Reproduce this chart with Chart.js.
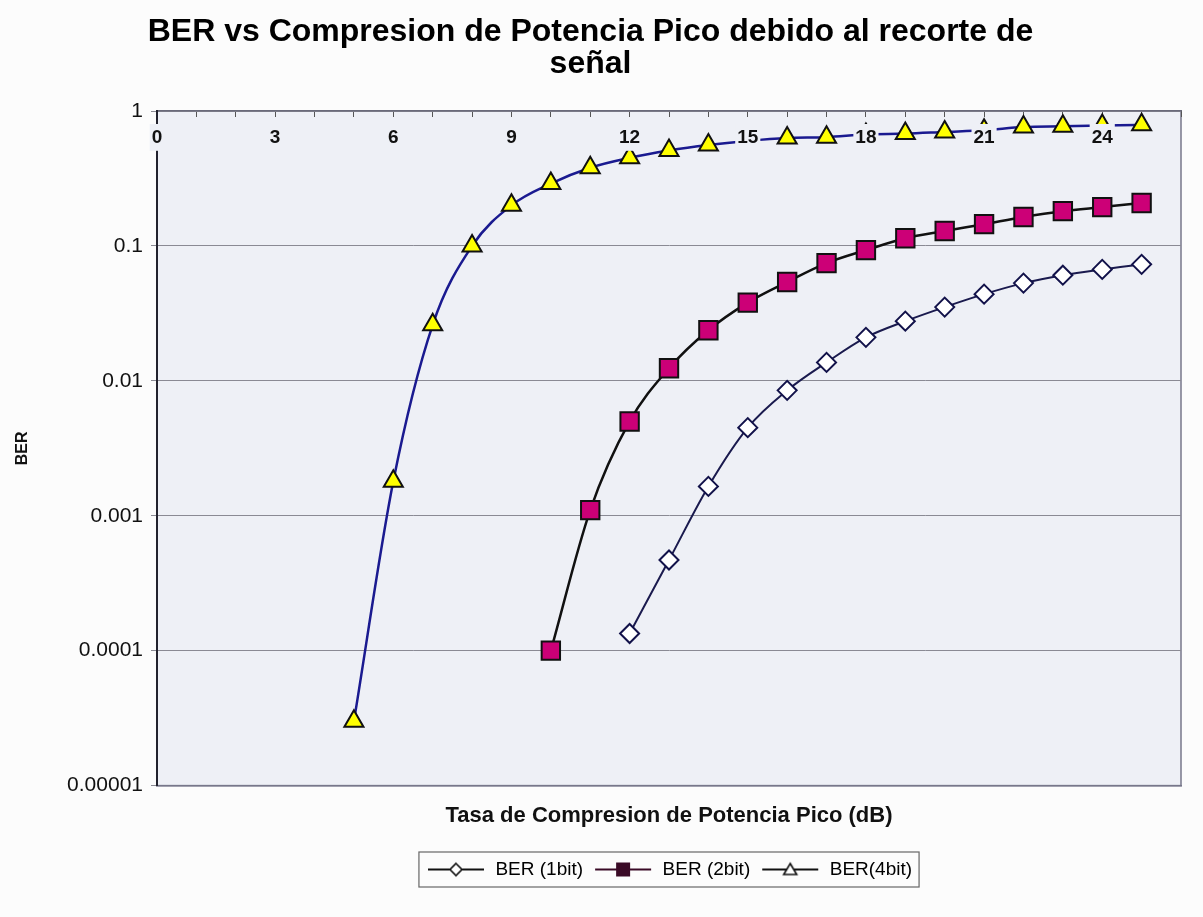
<!DOCTYPE html>
<html>
<head>
<meta charset="utf-8">
<script src="https://cdn.jsdelivr.net/npm/chart.js@4/dist/chart.umd.min.js"></script>
<style>
  html, body { margin: 0; padding: 0; background: #fcfcfc; }
  #wrap { width: 1203px; height: 917px; }
</style>
</head>
<body>
<div id="wrap"><canvas id="berChart"></canvas></div>
<script>
const FONT = "Arial, 'Liberation Sans', sans-serif";

// tick labels
const xTickLabels = [0, 3, 6, 9, 12, 15, 18, 21, 24];
const yTicks = [1, 0.1, 0.01, 0.001, 0.0001, 0.00001];
const yTickLabels = ["1", "0.1", "0.01", "0.001", "0.0001", "0.00001"];

// BER (1bit)
const x1bit = [12, 13, 14, 15, 16, 17, 18, 19, 20, 21, 22, 23, 24, 25];
const ber1bit = [0.000134, 0.00047, 0.00165, 0.0045, 0.0085, 0.0137, 0.021, 0.0277, 0.0352, 0.0439, 0.053, 0.0607, 0.067, 0.073];

// BER (2bit)
const x2bit = [10, 11, 12, 13, 14, 15, 16, 17, 18, 19, 20, 21, 22, 23, 24, 25];
const ber2bit = [0.0001, 0.0011, 0.005, 0.0124, 0.0237, 0.038, 0.054, 0.0745, 0.093, 0.114, 0.129, 0.145, 0.164, 0.181, 0.194, 0.208];

// BER(4bit)
const x4bit = [5, 6, 7, 8, 9, 10, 11, 12, 13, 14, 15, 16, 17, 18, 19, 20, 21, 22, 23, 24, 25];
const ber4bit = [0.00003, 0.0018, 0.026, 0.1, 0.2, 0.29, 0.38, 0.45, 0.51, 0.56, 0.6, 0.63, 0.64, 0.67, 0.68, 0.70, 0.72, 0.76, 0.77, 0.78, 0.79];

const seriesNames = ["BER (1bit)", "BER (2bit)", "BER(4bit)"];

function pts(xs, ys) {
  return xs.map((x, i) => ({ x: x, y: ys[i] }));
}

// little line+marker pictures for the legend
function legendIcon(kind) {
  const c = document.createElement("canvas");
  c.width = 60; c.height = 18;
  const g = c.getContext("2d");
  const cx = 30, cy = 9;
  g.lineWidth = 2;
  g.strokeStyle = kind === "square" ? "#3a0a26" : "#111";
  g.beginPath(); g.moveTo(2, cy); g.lineTo(58, cy); g.stroke();
  g.lineWidth = 1.6;
  g.beginPath();
  if (kind === "diamond") {
    g.moveTo(cx, cy - 6); g.lineTo(cx + 6, cy); g.lineTo(cx, cy + 6); g.lineTo(cx - 6, cy); g.closePath();
    g.fillStyle = "#fff"; g.fill(); g.stroke();
  } else if (kind === "square") {
    g.fillStyle = "#3a0a26";
    g.fillRect(cx - 7, cy - 7, 14, 14);
  } else {
    g.moveTo(cx, cy - 6); g.lineTo(cx + 6.5, cy + 5); g.lineTo(cx - 6.5, cy + 5); g.closePath();
    g.fillStyle = "#fff"; g.fill(); g.stroke();
  }
  return c;
}
const legendIcons = [legendIcon("diamond"), legendIcon("square"), legendIcon("triangle")];

const plotFrame = {
  id: "plotFrame",
  afterUpdate(chart) {
    // centre the legend under the plot area instead of the canvas
    const lg = chart.legend, a = chart.chartArea;
    const dx = (a.left + a.right) / 2 - (lg.left + lg.right) / 2;
    lg.left += dx; lg.right += dx;
    (lg.legendHitBoxes || []).forEach(b => { b.left += dx; });
  },
  beforeDraw(chart) {
    const a = chart.chartArea, ctx = chart.ctx;
    ctx.save();
    ctx.fillStyle = "#eef0f6";
    ctx.fillRect(a.left, a.top, a.right - a.left, a.bottom - a.top);
    ctx.strokeStyle = "#77778a";
    ctx.lineWidth = 1.5;
    ctx.strokeRect(a.left, a.top, a.right - a.left, a.bottom - a.top);
    ctx.restore();
  },
  afterDraw(chart) {
    const boxes = chart.legend.legendHitBoxes;
    if (!boxes || !boxes.length) return;
    const l = Math.min(...boxes.map(b => b.left)) - 7;
    const r = Math.max(...boxes.map(b => b.left + b.width)) + 7;
    const t = Math.min(...boxes.map(b => b.top)) - 8;
    const b = Math.max(...boxes.map(b => b.top + b.height)) + 8;
    const ctx = chart.ctx;
    ctx.save();
    ctx.strokeStyle = "#666";
    ctx.lineWidth = 1.2;
    ctx.strokeRect(l, t, r - l, b - t);
    ctx.restore();
  }
};

new Chart(document.getElementById("berChart"), {
  type: "line",
  data: {
    datasets: [
      {
        label: seriesNames[0],
        data: pts(x1bit, ber1bit),
        borderColor: "#1a1a4e",
        borderWidth: 2,
        pointStyle: "rectRot",
        pointRadius: 9.5,
        pointBackgroundColor: "#ffffff",
        pointBorderColor: "#12124a",
        pointBorderWidth: 2,
        cubicInterpolationMode: "monotone"
      },
      {
        label: seriesNames[1],
        data: pts(x2bit, ber2bit),
        borderColor: "#111111",
        borderWidth: 2.5,
        pointStyle: "rect",
        pointRadius: 13,
        pointBackgroundColor: "#cc0077",
        pointBorderColor: "#111111",
        pointBorderWidth: 2,
        cubicInterpolationMode: "monotone"
      },
      {
        label: seriesNames[2],
        data: pts(x4bit, ber4bit),
        borderColor: "#1a1a90",
        borderWidth: 2.5,
        pointStyle: "triangle",
        pointRadius: 11,
        pointBackgroundColor: "#ffff00",
        pointBorderColor: "#111111",
        pointBorderWidth: 2,
        cubicInterpolationMode: "monotone"
      }
    ]
  },
  options: {
    responsive: true,
    maintainAspectRatio: false,
    animation: false,
    layout: { padding: { left: 0, right: 22, top: 0, bottom: 28 } },
    plugins: {
      title: {
        display: true,
        text: ["BER vs Compresion de Potencia Pico debido al recorte de", "señal"],
        color: "#000",
        font: { family: FONT, size: 32, weight: "bold", lineHeight: 1.0 },
        padding: { top: 16, bottom: 29 }
      },
      legend: {
        position: "bottom",
        labels: {
          usePointStyle: true,
          pointStyleWidth: 60,
          color: "#111",
          font: { family: FONT, size: 19 },
          padding: 10,
          generateLabels: chart => chart.data.datasets.map((ds, i) => ({
            text: ds.label,
            pointStyle: legendIcons[i],
            fillStyle: "rgba(0,0,0,0)",
            strokeStyle: "rgba(0,0,0,0)",
            lineWidth: 0,
            hidden: false,
            datasetIndex: i
          }))
        }
      },
      tooltip: { enabled: false }
    },
    scales: {
      x: {
        type: "linear",
        position: "top",
        min: 0,
        max: 26,
        afterFit: s => { s.height = 2; },
        grid: { drawOnChartArea: false, drawTicks: true, tickLength: -6, color: "#555" },
        border: { display: true, color: "#6a6a7a", width: 1.5 },
        ticks: {
          stepSize: 1,
          autoSkip: false,
          maxRotation: 0,
          mirror: true,
          padding: 15,
          z: 1,
          color: "#111",
          font: { family: FONT, size: 19, weight: "bold" },
          showLabelBackdrop: ctx => xTickLabels.includes(ctx.tick.value),
          backdropColor: "#eef0f6",
          backdropPadding: 2,
          callback: v => xTickLabels.includes(v) ? String(v) : ""
        }
      },
      x2: {
        type: "linear",
        position: "bottom",
        min: 0,
        max: 26,
        grid: { display: false, drawTicks: false },
        border: { display: true, color: "#77778a", width: 1.5 },
        ticks: { display: false },
        title: {
          display: true,
          text: "Tasa de Compresion de Potencia Pico (dB)",
          color: "#111",
          font: { family: FONT, size: 22, weight: "bold" },
          padding: { top: 17, bottom: 21 }
        }
      },
      y: {
        type: "logarithmic",
        min: 0.00001,
        max: 1,
        afterFit: s => { s.width = 157; },
        afterBuildTicks: s => { s.ticks = yTicks.map(v => ({ value: v })); },
        grid: { color: "#8a8a94", lineWidth: 1, tickLength: 6 },
        border: { display: true, color: "#22222e", width: 2 },
        ticks: {
          padding: 8,
          color: "#111",
          font: { family: FONT, size: 21 },
          callback: v => {
            const i = yTicks.indexOf(v);
            return i >= 0 ? yTickLabels[i] : "";
          }
        },
        title: {
          display: true,
          text: "BER",
          color: "#111",
          font: { family: FONT, size: 16, weight: "bold" },
          padding: { top: 13, bottom: 0 }
        }
      }
    }
  },
  plugins: [plotFrame]
});
</script>
</body>
</html>
